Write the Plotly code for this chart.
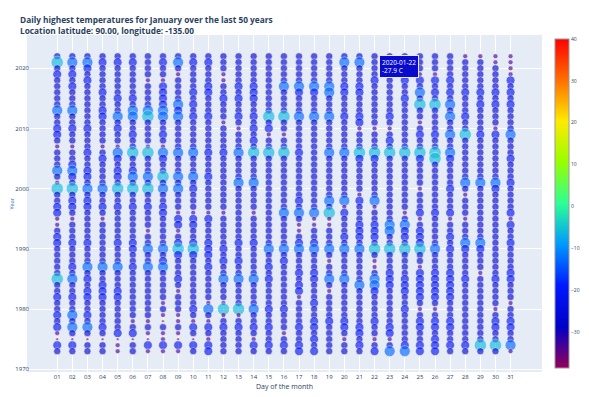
import plotly.graph_objects as go

# ---- data ----
days = list(range(1, 32))
day_labels = [f"{d:02d}" for d in days]
years_desc = list(range(2022, 1972, -1))  # top to bottom

# temperature estimate for each marker class seen in the picture
level_temps = {"p": -37.0, "s": -33.5, "m": -27.9, "b": -22.0, "l": -13.0, "c": -6.0}

# one string per day, 50 chars, years 2022 -> 1973
day_levels = [
    "mcmbmmmmmlmmbbmsmmmlmscmm" + "bbssmbbmmmmmcmmbmmbmbspbm",  # 01
    "mlmbmbmmmlmmbmmsmmblbmcmb" + "bmsmmmbmmmbmlmmbmmlmlmpbm",  # 02
    "mlbmbmmmmmmmbmmmbmmbbmlmb" + "bmmmmmbmmmlmbmbbmmbmlmpmm",  # 03
    "mbmmmmbmmbbmmmmsmbmmmmlmm" + "bmsmmmmmmmlmmbbbmmmmbmpmm",  # 04
    "mbmmmmmbmmlmbmmslbmbbmcmm" + "bmmmmmbmmmlmmmbbmmmmmbpss",  # 05
    "mbmmmmmbmllmmbmmcmmblmcmm" + "bmmmmmbbmmbmmmmmmmmsmbpmm",  # 06
    "mmmmsmmmmlcmmmmscmmmlmcmm" + "bmmmsmmlmmlmmmmmmmmsmspbs",  # 07
    "mbmmsbbbbllmmbmslbmmcmlmm" + "bbmmmmmlmblmmmmmsmspmssbs",  # 08
    "mlmsmmmmlblmmmmmlmmmlmlmm" + "msbbsmbcbmmmbmsmmmssmspbs",  # 09
    "mbmmmmbmbmbmmmmmlmmmlmbmm" + "msbbmmbcbmmmmmmmmbmsbmpbm",  # 10
    "mbmmmbbmmmbmmmmmbmmmbmmmm" + "msbmmmbbbmbmmmmmslmsbmsbb",  # 11
    "mmmssmmbmmmsmmmmbmmmmmmmm" + "msmmmmmbmbmmlmmmscsmbmmmm",  # 12
    "mmmmmbmbmmbmsmmmlmmmmlmmm" + "mmmmmmbmmbmmlmmmmcsmbmmmm",  # 13
    "mmmmmbbbmmbmbmbmcmmmmlmmm" + "msmmmmbmmmmmlmmmmlmmbmsbm",  # 14
    "mmmmmmmmmmcmbsmmcmmmmmmmm" + "mmmmmmmlmmbmbmmmmbmmbmmbm",  # 15
    "mmmmmlmmmmcmmsmmcmmmmmmmm" + "mlmmmmmlmbmmmmmmmbmmmsmbm",  # 16
    "mmmmmlbmmmlmmmmmbmmmmmmmb" + "mlmssmblmmmbmbbsmmmmbmmbb",  # 17
    "mmmmmlbmmmlmmmmmmmmmmmmmm" + "mlssmmblmmmbbmmmbmmbbmbmb",  # 18
    "mmmmmllmmmlmmmmmlmmmmmmml" + "mcssmmmlmsmmlmsmmmmbmmmmm",  # 19
    "mlmmmbbmmmbmmmmmlmmmmmmml" + "sbmmmbmlmmmmlmmmmmmbbmsmm",  # 20
    "mlmmmbbmmmbbsmmmcbmmmmmsb" + "mmmbbbmlmmmmmlmmmmmmbbmbm",  # 21
    "mmmmbmmmmmmmsmmmcbmmmmmml" + "smmbbbmcmssmllbmmmmbmmsmb",  # 22
    "mmbbmmmmmmbmsmbmcmmmmmmmm" + "mmmllmmcmmmbbbmmmmmmbbsml",  # 23
    "mmmbbmmbmmmmmmmmcmmmmmmmm" + "msmlbbmcmmmmbbbmmbmmmmmbl",  # 24
    "mmmsbmlmcmmsmbmmcbmmmmsmm" + "mbsmbbbcmmsbbbbbmsmbbmmbb",  # 25
    "mmmsbmbmcmmmmbmmccmmmmmmm" + "mbmmmmmlmmmbbbbbmsmbbmbbb",  # 26
    "mmmmbmbmlmlmmlmmlbmmmmbmm" + "mbsmmbmbmmmbbbbbmmmbbmmbm",  # 27
    "smmmmmbmmmbmmcmmmmmmmlmsm" + "mmsmmmlbmmmmbmmmmmmmmmmbm",  # 28
    "smmmmmbmbmmmmbmmmmmmmlmmm" + "mmmmmmlbmmmsmmmmmmmmmmmcm",  # 29
    "ssmmmmbmbmmmsbmmmmmmmlbmm" + "mmmmmmmmmmmmbmmmmsmbbmmcm",  # 30
    "ssssbmbmbmmmmlmmmbmmmbmmm" + "mbsbmmbmmmmbbmmmsmmbbmmls",  # 31
]

color_ticks = [-30, -20, -10, 0, 10, 20, 30, 40]

# ---- build points ----
xs, ys, ts, dates = [], [], [], []
for d, col in zip(days, day_levels):
    for yr, ch in zip(years_desc, col):
        xs.append(d)
        ys.append(yr)
        ts.append(level_temps[ch])
        dates.append(f"{yr}-01-{d:02d}")

t_floor = -38.9
sizes = [t - t_floor for t in ts]

fig = go.Figure(go.Scatter(
    x=xs, y=ys, mode="markers",
    customdata=dates,
    hovertemplate="%{customdata}<br>%{marker.color:.1f} C<extra></extra>",
    marker=dict(
        color=ts, colorscale="Rainbow", cmin=-38.6, cmax=40,
        size=sizes, sizemode="area", sizeref=1 / 2.3, opacity=0.64,
        line=dict(width=0.6, color="white"),
        colorbar=dict(
            thickness=14, lenmode="fraction", len=0.976, y=0.5, yanchor="middle",
            ypad=0, x=1.0252, xanchor="left", xpad=0,
            outlinewidth=1, outlinecolor="#9a9a9a",
            tickvals=color_ticks, tickfont=dict(size=5, color="#2a3f5f"),
            ticklen=0,
        ),
    ),
))

fig.add_annotation(
    x=22, y=2020, xref="x", yref="y",
    text="2020-01-22<br>-27.9 C", showarrow=False,
    xanchor="left", yanchor="middle", xshift=4, yshift=2, align="left",
    font=dict(size=6.5, color="white"),
    bgcolor="rgb(10,12,205)", bordercolor="#e8e8ff", borderwidth=1, borderpad=2,
)

fig.add_annotation(
    x=-16 / 515, y=0.5, xref="paper", yref="paper", text="Year", textangle=-90,
    showarrow=False, xanchor="center", yanchor="middle",
    font=dict(size=5.5, color="#1f5fd0"),
)

fig.add_annotation(
    x=-9 / 515, y=1 + 23 / 337, xref="paper", yref="paper",
    text="<b>Daily highest temperatures for January over the last 50 years<br>"
         "Location latitude: 90.00, longitude: -135.00</b>",
    showarrow=False, xanchor="left", yanchor="top", align="left",
    font=dict(size=8.3, color="#2a3f5f"),
)

fig.update_layout(
    width=581, height=389,
    template="plotly",
    font=dict(family="Open Sans, Verdana, Arial", color="#2a3f5f"),
    margin=dict(l=19, r=47, t=27, b=25, autoexpand=False),
    showlegend=False,
    xaxis=dict(
        range=[-1.0, 33.08], tickvals=days, ticktext=day_labels, automargin=False,
        tickfont=dict(size=6), showgrid=True, gridcolor="white", zeroline=False,
        title=dict(text="Day of the month", font=dict(size=7), standoff=4),
    ),
    yaxis=dict(
        range=[1969.55, 2025.53], tickvals=[1970, 1980, 1990, 2000, 2010, 2020],
        automargin=False, ticklabelstandoff=-3,
        tickfont=dict(size=6), showgrid=True, gridcolor="white", zeroline=False,
    ),
    plot_bgcolor="#E5ECF6", paper_bgcolor="white",
)

fig.write_html("out.html")
